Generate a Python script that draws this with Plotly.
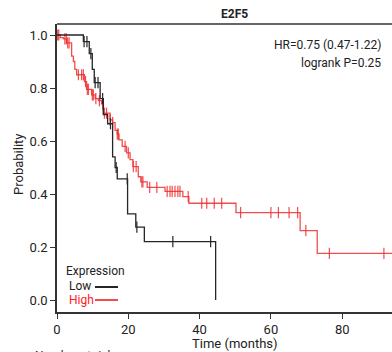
import numpy as np
import plotly.graph_objects as go

# ---- data ----
low_time = [0, 7.4, 9.05, 9.9, 10.45, 12.1, 13.0, 14.2, 15.6, 16.3, 16.9, 19.8, 22.1, 24.5, 44.5]
low_surv = [1.0, 0.975, 0.93, 0.87, 0.82, 0.76, 0.70, 0.665, 0.54, 0.50, 0.457, 0.325, 0.275, 0.22, 0.0]
low_censor = [7.6, 8.4, 9.5, 10.7, 11.5, 12.8, 15.0, 16.6, 19.7, 22.4, 32.5, 43.1]

high_time = [0, 0.9, 1.8, 2.7, 4.1, 4.6, 5.0, 5.5, 7.7, 8.3, 9.7, 10.7, 11.6, 12.5, 13.0,
             14.9, 15.6, 16.3, 16.9, 17.4, 18.3, 19.5, 20.5, 21.3, 22.8, 23.5, 25.3, 30.3,
             35.3, 37.0, 50.2, 68.2, 73.0, 95.0]
high_surv = [1.0, 0.99, 0.985, 0.97, 0.92, 0.90, 0.87, 0.85, 0.824, 0.795, 0.774, 0.76, 0.752,
             0.74, 0.705, 0.68, 0.669, 0.64, 0.626, 0.604, 0.58, 0.555, 0.53, 0.503, 0.465,
             0.446, 0.425, 0.41, 0.39, 0.365, 0.33, 0.262, 0.176, 0.176]
high_censor = [0.2, 0.5, 2.2, 2.6, 3.0, 3.4, 6.0, 6.9, 7.4, 8.0, 8.5, 8.8, 9.9, 10.2, 10.9,
               11.9, 12.8, 13.3, 13.9, 14.9, 15.6, 16.9, 17.2, 19.1, 20.0, 21.4, 22.2, 23.8,
               24.1, 26.0, 28.0, 30.9, 31.7, 32.3, 33.1, 33.9, 34.5, 36.8, 40.6, 42.0, 44.1,
               46.2, 51.5, 60.0, 62.1, 65.1, 67.5, 69.8, 76.4, 91.7]

x_ticks = [0, 20, 40, 60, 80]
y_ticks = [0.0, 0.2, 0.4, 0.6, 0.8, 1.0]
title = "E2F5"
hr_text = "HR=0.75 (0.47-1.22)"
p_text = "logrank P=0.25"

BLACK = "#262626"
RED = "rgba(240,45,45,0.85)"
FONT = "Roboto, sans-serif"


def at(times, surv, ts):
    idx = np.searchsorted(np.array(times), np.array(ts), side="right") - 1
    return list(np.array(surv)[idx])


fig = go.Figure()
fig.add_trace(go.Scatter(x=high_time, y=high_surv, mode="lines", line=dict(color=RED, width=1.3, shape="hv"),
                         showlegend=False, hoverinfo="skip"))
fig.add_trace(go.Scatter(x=high_censor, y=at(high_time, high_surv, high_censor), mode="markers",
                         marker=dict(symbol="line-ns", size=8, line=dict(color=RED, width=1.2)),
                         showlegend=False, hoverinfo="skip"))
fig.add_trace(go.Scatter(x=low_time, y=low_surv, mode="lines", line=dict(color=BLACK, width=1.3, shape="hv"),
                         showlegend=False, hoverinfo="skip"))
fig.add_trace(go.Scatter(x=low_censor, y=at(low_time, low_surv, low_censor), mode="markers",
                         marker=dict(symbol="line-ns", size=8, line=dict(color=BLACK, width=1.2)),
                         showlegend=False, hoverinfo="skip"))

W, H = 392, 352
L, R, T, B = 57, 0, 24, 40
pw, ph = W - L - R, H - T - B


def px(xp):
    return (xp - L) / pw


def py(yp):
    return (H - B - yp) / ph


fig.update_layout(
    width=W, height=H, margin=dict(l=L, r=R, t=T, b=B),
    paper_bgcolor="white", plot_bgcolor="white",
    font=dict(family=FONT, size=13, color="#222"),
    xaxis=dict(range=[0, 93.97], tickvals=x_ticks, ticks="outside", ticklen=5, tickcolor="#333",
               showline=True, linecolor="#333", linewidth=1.5, showgrid=False, zeroline=False,
               tickfont=dict(size=13)),
    yaxis=dict(range=[-0.0453, 1.0415], tickvals=y_ticks, tickformat=".1f", ticks="outside", ticklen=5,
               tickcolor="#333", showline=True, linecolor="#333", linewidth=1.5, showgrid=False,
               zeroline=False, tickfont=dict(size=13)),
    shapes=[
        dict(type="line", xref="paper", yref="paper", x0=0, x1=1, y0=1, y1=1,
             line=dict(color="#333", width=1.5)),
        dict(type="line", xref="paper", yref="paper", x0=px(95), x1=px(118), y0=py(287), y1=py(287),
             line=dict(color=BLACK, width=2)),
        dict(type="line", xref="paper", yref="paper", x0=px(95), x1=px(118), y0=py(300), y1=py(300),
             line=dict(color=RED, width=2)),
    ],
    annotations=[
        dict(text="<b>" + title + "</b>", xref="paper", yref="paper", x=px(234), y=py(14), showarrow=False,
             font=dict(size=12, color="#222"), xanchor="center", yanchor="middle"),
        dict(text=hr_text, xref="paper", yref="paper", x=px(383), y=py(45), showarrow=False,
             font=dict(size=12), xanchor="right", yanchor="middle"),
        dict(text=p_text, xref="paper", yref="paper", x=px(383), y=py(63), showarrow=False,
             font=dict(size=12), xanchor="right", yanchor="middle"),
        dict(text="Expression", xref="paper", yref="paper", x=px(64), y=py(271), showarrow=False,
             font=dict(size=12), xanchor="left", yanchor="middle"),
        dict(text="Low", xref="paper", yref="paper", x=px(67), y=py(286), showarrow=False,
             font=dict(size=12), xanchor="left", yanchor="middle"),
        dict(text="High", xref="paper", yref="paper", x=px(67), y=py(300), showarrow=False,
             font=dict(size=12, color="#ff2020"), xanchor="left", yanchor="middle"),
        dict(text="Time (months)", xref="paper", yref="paper", x=px(235), y=py(343), showarrow=False,
             font=dict(size=13), xanchor="center", yanchor="middle"),
        dict(text="Probability", xref="paper", yref="paper", x=px(18), y=py(165), showarrow=False,
             font=dict(size=13), textangle=-90, xanchor="center", yanchor="middle"),
        dict(text="Number at risk", xref="paper", yref="paper", x=px(33), y=py(356), showarrow=False,
             font=dict(size=12), xanchor="left", yanchor="middle"),
    ],
)

fig.write_html("out.html")
